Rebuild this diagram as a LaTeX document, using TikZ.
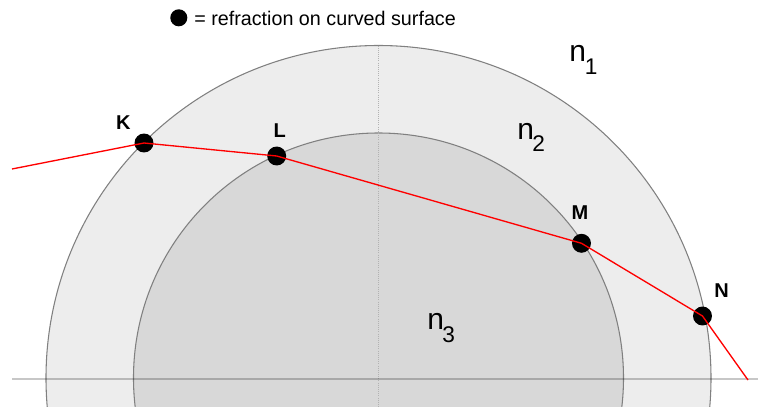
\documentclass[tikz,border=0pt]{standalone}
\usepackage{fontspec}
\setmainfont{Liberation Sans}
\definecolor{outerfill}{HTML}{EDEDED}
\definecolor{innerfill}{HTML}{D8D8D8}
\definecolor{circline}{HTML}{808080}
\definecolor{rayred}{HTML}{FF0000}
\begin{document}
\begin{tikzpicture}[x=0.75pt,y=-0.75pt,
  circ/.style={draw=circline,line width=0.8pt},
  vline/.style={draw=black!30,densely dotted,line width=0.6pt},
  hline/.style={draw=black,opacity=0.22,line width=1.5pt},
  dot/.style={circle,fill=black,inner sep=0pt,minimum size=14.2pt},
  ray/.style={draw=rayred,line width=1pt,line join=round},
  ptlabel/.style={inner sep=0pt,font=\fontsize{15}{17}\selectfont\bfseries},
  nlab/.style={inner sep=0pt,anchor=base west,font=\fontsize{22.5}{26}\selectfont},
  nsub/.style={inner sep=0pt,anchor=base west,font=\fontsize{17}{20}\selectfont},
  legend/.style={inner sep=0pt,anchor=base west,font=\fontsize{14.8}{17}\selectfont}]
\useasboundingbox (0,0) rectangle (758,407);
\clip (0,0) rectangle (758,407);
\coordinate (O) at (378.5,378);
\fill[outerfill] (O) circle (332.5);
\draw[circ] (O) circle (332.5);
\fill[innerfill] (O) circle (245);
\draw[circ] (O) circle (245);
\coordinate (vtop) at (378.5,45.5);
\coordinate (vbot) at (378.5,407);
\draw[vline] (vtop) -- (vbot);
\coordinate (hl) at (12,379);
\coordinate (hr) at (758,379);
\draw[hline] (hl) -- (hr);
% refraction points
\node[dot] (K) at (144,143) {};
\node[dot] (L) at (276.7,156) {};
\node[dot] (M) at (581.5,243.3) {};
\node[dot] (N) at (702.5,316) {};
\coordinate (S) at (12,169);
\coordinate (E) at (748,380);
\draw[ray] (S) -- (K.center) -- (L.center) -- (M.center) -- (N.center) -- (E);
% point labels
\node[ptlabel] (Kl) at (123.3,122.7) {K};
\node[ptlabel] (Ll) at (279.7,130.8) {L};
\node[ptlabel] (Ml) at (580,213) {M};
\node[ptlabel] (Nl) at (721.7,290.3) {N};
% refractive indices
\node[nlab] (n1) at (569,61.7) {n};
\node[nsub] (n1s) at (584.6,74.3) {1};
\node[nlab] (n2) at (517,139) {n};
\node[nsub] (n2s) at (532,151) {2};
\node[nlab] (n3) at (427,329.3) {n};
\node[nsub] (n3s) at (442,342.7) {3};
% legend
\node[dot,minimum size=12.8pt] (ld) at (178.8,17.8) {};
\node[legend] (lt) at (194,26) {= refraction on curved surface};
\end{tikzpicture}
\end{document}
